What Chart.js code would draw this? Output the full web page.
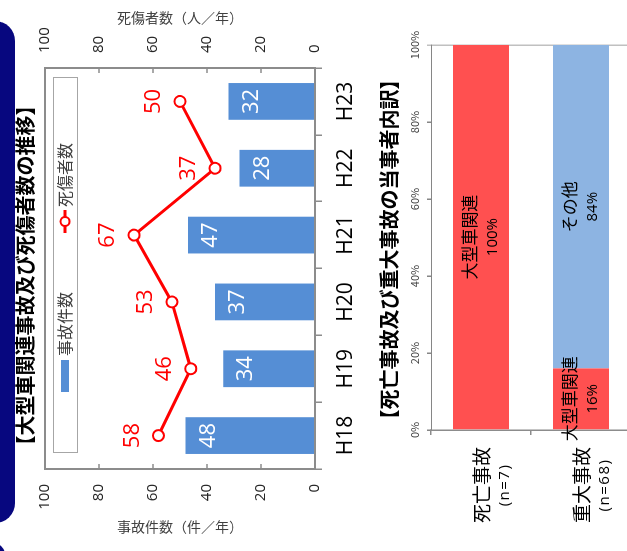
<!DOCTYPE html>
<html lang="ja">
<head>
<meta charset="utf-8">
<title>大型車関連事故</title>
<script src="https://cdn.jsdelivr.net/npm/chart.js@4.4.1/dist/chart.umd.min.js"></script>
<style>
  html, body { margin: 0; padding: 0; background: #fff; }
  body { width: 627px; height: 551px; overflow: hidden; position: relative; }
  /* The sheet is laid out upright (551 x 627) and turned a quarter turn to the left. */
  #sheet {
    position: absolute; left: 0; top: 0; width: 551px; height: 627px;
    transform-origin: 0 0; transform: translate(0px, 551px) rotate(-90deg);
    overflow: hidden; background: #fff;
  }
  .band { position: absolute; background: #07077f; border-radius: 20px; }
  .title {
    position: absolute; width: 551px; text-align: center; white-space: nowrap;
    font-family: "Noto Sans CJK JP", sans-serif; font-weight: 700; font-size: 20px;
    line-height: 20px; color: #000; z-index: 2;
  }
  .wrap { position: absolute; left: 0; }
  canvas { display: block; }
</style>
</head>
<body>
<div id="sheet">
  <div class="band" style="left:28px; top:-40px; width:502px; height:55px;"></div>
  <div class="band" style="left:-60px; top:-40px; width:68px; height:45px; border-radius:12px;"></div>

  <div class="title" style="left:0px; top:15px;">【大型車関連事故及び死傷者数の推移】</div>
  <div class="wrap" style="top:0px;"><canvas id="trend" width="551" height="380"></canvas></div>

  <div class="title" style="left:26px; top:379px;">【死亡事故及び重大事故の当事者内訳】</div>
  <div class="wrap" style="top:380px;"><canvas id="share" width="551" height="260"></canvas></div>
</div>

<script>
// ---- data ----
const years = ['H18', 'H19', 'H20', 'H21', 'H22', 'H23'];
const accidents = [48, 34, 37, 47, 28, 32];     // 事故件数（件／年）
const casualties = [58, 46, 53, 67, 37, 50];    // 死傷者数（人／年）
const countAxisTitle = '事故件数（件／年）';
const casualtyAxisTitle = '死傷者数（人／年）';

const accidentKinds = ['死亡事故', '重大事故'];
const kindCounts = ['(n=7)', '(n=68)'];
const largeVehicleShare = [100, 16];            // 大型車関連 (%)
const otherShare = [0, 84];                     // その他 (%)

// ---- shared styles ----
const LATIN = '"Open Sans", "Noto Sans CJK JP", sans-serif';
const CJK = '"Noto Sans CJK JP", sans-serif';
const FRAME = '#8c8c8c';

function font(size, family, weight) {
  return (weight || 'normal') + ' ' + size + 'px ' + family;
}

function verticalText(ctx, text, x, y, size, color) {
  ctx.save();
  ctx.translate(x, y);
  ctx.rotate(Math.PI / 2);
  ctx.font = font(size, CJK);
  ctx.fillStyle = color;
  ctx.textAlign = 'center';
  ctx.textBaseline = 'middle';
  ctx.fillText(text, 0, 0);
  ctx.restore();
}

// Frame, inward ticks, axis titles, value labels and legend of the trend chart
const trendDecor = {
  id: 'trendDecor',
  afterDatasetsDraw(chart) {
    const ctx = chart.ctx;
    const a = chart.chartArea;
    ctx.save();
    ctx.strokeStyle = FRAME;
    ctx.lineWidth = 2;
    ctx.strokeRect(a.left, a.top, a.right - a.left, a.bottom - a.top);
    ctx.lineWidth = 1.5;
    const y = chart.scales.y, y1 = chart.scales.y1;
    y.ticks.forEach(t => {
      if (t.value <= 0 || t.value >= 100) return;
      const p = y.getPixelForValue(t.value);
      ctx.beginPath(); ctx.moveTo(a.left, p); ctx.lineTo(a.left + 5, p); ctx.stroke();
    });
    y1.ticks.forEach(t => {
      if (t.value <= 0 || t.value >= 100) return;
      const p = y1.getPixelForValue(t.value);
      ctx.beginPath(); ctx.moveTo(a.right, p); ctx.lineTo(a.right - 5, p); ctx.stroke();
    });
    ctx.restore();
  },
  afterDraw(chart) {
    const ctx = chart.ctx;
    const a = chart.chartArea;
    const mid = (a.top + a.bottom) / 2;

    verticalText(ctx, countAxisTitle, 24, mid, 14, '#404040');
    verticalText(ctx, casualtyAxisTitle, 533, mid, 14, '#404040');

    // value labels
    ctx.save();
    ctx.textAlign = 'center';
    ctx.textBaseline = 'middle';
    chart.data.datasets.forEach((ds, i) => {
      const meta = chart.getDatasetMeta(i);
      meta.data.forEach((el, j) => {
        const v = ds.data[j];
        ctx.font = font(22, LATIN);
        if (ds.type === 'bar') {
          ctx.fillStyle = '#ffffff';
          ctx.fillText(String(v), el.x, el.y + 23);
        } else {
          ctx.fillStyle = '#ff0000';
          ctx.fillText(String(v), el.x, el.y - 26);
        }
      });
    });

    // legend box inside the plot
    const bx = a.left + 16, by = a.top + 8, bw = a.right - a.left - 26, bh = 24;
    ctx.fillStyle = '#ffffff';
    ctx.fillRect(bx, by, bw, bh);
    ctx.strokeStyle = '#a6a6a6';
    ctx.lineWidth = 1;
    ctx.strokeRect(bx + 0.5, by + 0.5, bw, bh);
    const cy = by + bh / 2;
    const barDs = chart.data.datasets[0];
    const lineDs = chart.data.datasets[1];
    ctx.fillStyle = barDs.backgroundColor;
    ctx.fillRect(bx + 61, cy - 4, 32, 8);
    ctx.font = font(16, CJK);
    ctx.fillStyle = '#404040';
    ctx.textAlign = 'left';
    ctx.fillText(barDs.label, bx + 97, cy);
    ctx.strokeStyle = lineDs.borderColor;
    ctx.lineWidth = 3;
    ctx.beginPath(); ctx.moveTo(bx + 220, cy); ctx.lineTo(bx + 243, cy); ctx.stroke();
    ctx.beginPath(); ctx.arc(bx + 231.5, cy, 4.5, 0, Math.PI * 2);
    ctx.fillStyle = '#ffffff'; ctx.fill();
    ctx.lineWidth = 2; ctx.stroke();
    ctx.fillStyle = '#404040';
    ctx.fillText(lineDs.label, bx + 246, cy);
    ctx.restore();
  }
};

new Chart(document.getElementById('trend'), {
  data: {
    labels: years,
    datasets: [
      {
        type: 'bar', label: '事故件数', data: accidents, yAxisID: 'y',
        backgroundColor: '#558ed5', barPercentage: 0.55, categoryPercentage: 1, order: 2
      },
      {
        type: 'line', label: '死傷者数', data: casualties, yAxisID: 'y1',
        borderColor: '#ff0000', borderWidth: 3, tension: 0,
        pointRadius: 5.5, pointBackgroundColor: '#ffffff', pointBorderColor: '#ff0000',
        pointBorderWidth: 2, order: 1
      }
    ]
  },
  options: {
    responsive: false, animation: false, devicePixelRatio: 1,
    layout: { padding: { top: 45, left: 0, right: 0, bottom: 0 } },
    plugins: { legend: { display: false }, tooltip: { enabled: false } },
    scales: {
      x: {
        offset: true,
        grid: { offset: true, drawOnChartArea: false, tickLength: 7, color: FRAME, lineWidth: 1.5 },
        border: { display: false },
        ticks: { font: { family: LATIN, size: 21 }, color: '#000', padding: 11, maxRotation: 0 },
        afterFit(s) { s.height = 65; }
      },
      y: {
        position: 'left', min: 0, max: 100,
        ticks: { stepSize: 20, font: { family: LATIN, size: 15 }, color: '#262626', padding: 15 },
        grid: { display: false, drawTicks: false },
        border: { display: false },
        afterFit(s) { s.width = 82; }
      },
      y1: {
        position: 'right', min: 0, max: 100,
        ticks: { stepSize: 20, font: { family: LATIN, size: 15 }, color: '#262626', padding: 15 },
        grid: { display: false, drawTicks: false },
        border: { display: false },
        afterFit(s) { s.width = 68; }
      }
    }
  },
  plugins: [trendDecor]
});

// Segment labels and two-line category labels of the share chart
const shareDecor = {
  id: 'shareDecor',
  afterDraw(chart) {
    const ctx = chart.ctx;
    const a = chart.chartArea;
    const ys = chart.scales.y;
    ctx.save();
    ctx.textAlign = 'center';
    ctx.textBaseline = 'middle';
    chart.data.datasets.forEach((ds, i) => {
      const meta = chart.getDatasetMeta(i);
      meta.data.forEach((el, j) => {
        const v = ds.data[j];
        if (!v) return;
        const cx = (el.x + el.base) / 2;
        ctx.fillStyle = '#000';
        ctx.font = font(17, CJK);
        ctx.fillText(ds.label, cx, el.y - 11.5);
        ctx.font = font(15, LATIN);
        ctx.fillText(v + '%', cx, el.y + 11.5);
      });
    });
    accidentKinds.forEach((name, i) => {
      const p = ys.getPixelForValue(i);
      const cx = a.left - 55;
      ctx.fillStyle = '#000';
      ctx.font = font(19, CJK);
      ctx.fillText(name, cx, p + 0.5);
      ctx.font = font(15, LATIN);
      ctx.letterSpacing = '1.5px';
      ctx.fillText(kindCounts[i], cx, p + 24);
      ctx.letterSpacing = '0px';
    });
    ctx.restore();
  }
};

new Chart(document.getElementById('share'), {
  type: 'bar',
  data: {
    labels: accidentKinds,
    datasets: [
      { label: '大型車関連', data: largeVehicleShare, backgroundColor: '#ff5050', barPercentage: 0.56, categoryPercentage: 1 },
      { label: 'その他', data: otherShare, backgroundColor: '#8db4e2', barPercentage: 0.56, categoryPercentage: 1 }
    ]
  },
  options: {
    indexAxis: 'y',
    responsive: false, animation: false, devicePixelRatio: 1,
    layout: { padding: { left: 0, top: 0, right: 45, bottom: 9 } },
    plugins: { legend: { display: false }, tooltip: { enabled: false } },
    scales: {
      x: {
        position: 'top', stacked: true, min: 0, max: 100,
        ticks: { stepSize: 20, callback: v => v + '%', font: { family: CJK, size: 11 }, color: '#404040', padding: 6, maxRotation: 0 },
        grid: {
          color: c => (c.tick && c.tick.value === 100) ? '#c0c0c0' : 'rgba(0,0,0,0)',
          tickColor: c => (c.tick && c.tick.value === 100) ? '#c0c0c0' : '#868686',
          tickLength: 4, lineWidth: 1.5
        },
        border: { display: true, color: '#868686', width: 1 },
        afterFit(s) { s.height = 51; }
      },
      y: {
        stacked: true, offset: true,
        grid: { offset: true, drawOnChartArea: false, tickLength: 5, color: FRAME, lineWidth: 1.5 },
        border: { color: FRAME, width: 1.5 },
        ticks: { display: false },
        afterFit(s) { s.width = 121; }
      }
    }
  },
  plugins: [shareDecor]
});
</script>
</body>
</html>
